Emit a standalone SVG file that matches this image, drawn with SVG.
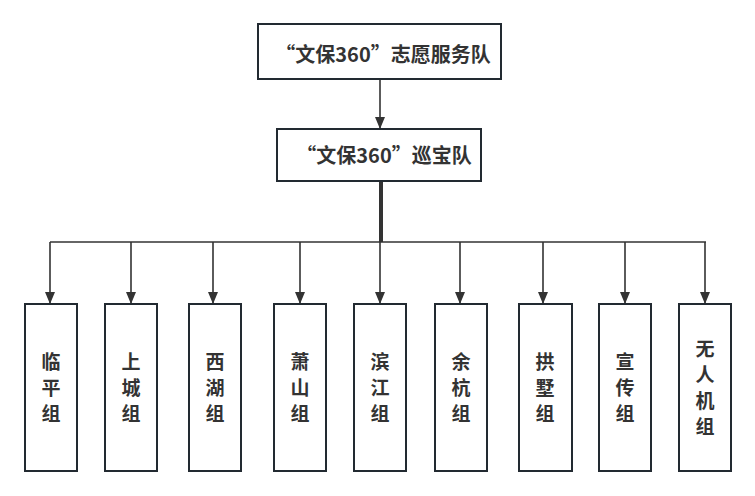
<svg xmlns="http://www.w3.org/2000/svg" width="755" height="496" viewBox="0 0 755 496">
<style>
.box{fill:#fff;stroke:#222a31;stroke-width:2}
.t{font-family:"Noto Sans CJK SC","Noto Sans",sans-serif;font-weight:bold;fill:#333;text-anchor:middle}
.top{font-size:20px}
.c{font-size:19px}
.ln{stroke:#333;stroke-width:1.6;fill:none}
</style>
<defs>
<marker id="ar" viewBox="0 0 12 10" refX="12" refY="5" markerWidth="12" markerHeight="10" markerUnits="userSpaceOnUse" orient="auto">
<path d="M0,0 L12,5 L0,10 Z" fill="#333"/>
</marker>
</defs>
<rect width="755" height="496" fill="#fff"/>
<g id="connectors">
<line class="ln" x1="380" y1="80" x2="380" y2="129" marker-end="url(#ar)"/>
<line x1="381" y1="181" x2="381" y2="242" stroke="#333" stroke-width="4"/>
<line class="ln" x1="50" y1="242" x2="706" y2="242"/>
<line class="ln" x1="50" y1="242" x2="50" y2="304" marker-end="url(#ar)"/>
<line class="ln" x1="131" y1="242" x2="131" y2="304" marker-end="url(#ar)"/>
<line class="ln" x1="213" y1="242" x2="213" y2="304" marker-end="url(#ar)"/>
<line class="ln" x1="300" y1="242" x2="300" y2="304" marker-end="url(#ar)"/>
<line class="ln" x1="380" y1="242" x2="380" y2="304" marker-end="url(#ar)"/>
<line class="ln" x1="460" y1="242" x2="460" y2="304" marker-end="url(#ar)"/>
<line class="ln" x1="543" y1="242" x2="543" y2="304" marker-end="url(#ar)"/>
<line class="ln" x1="625" y1="242" x2="625" y2="304" marker-end="url(#ar)"/>
<line class="ln" x1="705" y1="242" x2="705" y2="304" marker-end="url(#ar)"/>
</g>
<g id="n-top"><rect class="box" x="258" y="24" width="243" height="55"/><text class="t top" x="383" y="62">“文保360”志愿服务队</text></g>
<g id="n-xbd"><rect class="box" x="277" y="129" width="204" height="52"/><text class="t top" x="384" y="163">“文保360”巡宝队</text></g>
<g id="n-1"><rect class="box" x="25" y="304" width="52" height="167"/><text class="t c" x="51" y="369">临</text><text class="t c" x="51" y="395">平</text><text class="t c" x="51" y="421">组</text></g>
<g id="n-2"><rect class="box" x="105" y="304" width="52" height="167"/><text class="t c" x="131" y="369">上</text><text class="t c" x="131" y="395">城</text><text class="t c" x="131" y="421">组</text></g>
<g id="n-3"><rect class="box" x="189" y="304" width="52" height="167"/><text class="t c" x="215" y="369">西</text><text class="t c" x="215" y="395">湖</text><text class="t c" x="215" y="421">组</text></g>
<g id="n-4"><rect class="box" x="274" y="304" width="52" height="167"/><text class="t c" x="300" y="369">萧</text><text class="t c" x="300" y="395">山</text><text class="t c" x="300" y="421">组</text></g>
<g id="n-5"><rect class="box" x="354" y="304" width="52" height="167"/><text class="t c" x="380" y="369">滨</text><text class="t c" x="380" y="395">江</text><text class="t c" x="380" y="421">组</text></g>
<g id="n-6"><rect class="box" x="435" y="304" width="52" height="167"/><text class="t c" x="461" y="369">余</text><text class="t c" x="461" y="395">杭</text><text class="t c" x="461" y="421">组</text></g>
<g id="n-7"><rect class="box" x="519" y="304" width="53" height="167"/><text class="t c" x="545" y="369">拱</text><text class="t c" x="545" y="395">墅</text><text class="t c" x="545" y="421">组</text></g>
<g id="n-8"><rect class="box" x="599" y="304" width="52" height="167"/><text class="t c" x="625" y="369">宣</text><text class="t c" x="625" y="395">传</text><text class="t c" x="625" y="421">组</text></g>
<g id="n-9"><rect class="box" x="679" y="304" width="52" height="167"/><text class="t c" x="705" y="356">无</text><text class="t c" x="705" y="382">人</text><text class="t c" x="705" y="408">机</text><text class="t c" x="705" y="434">组</text></g>
</svg>
